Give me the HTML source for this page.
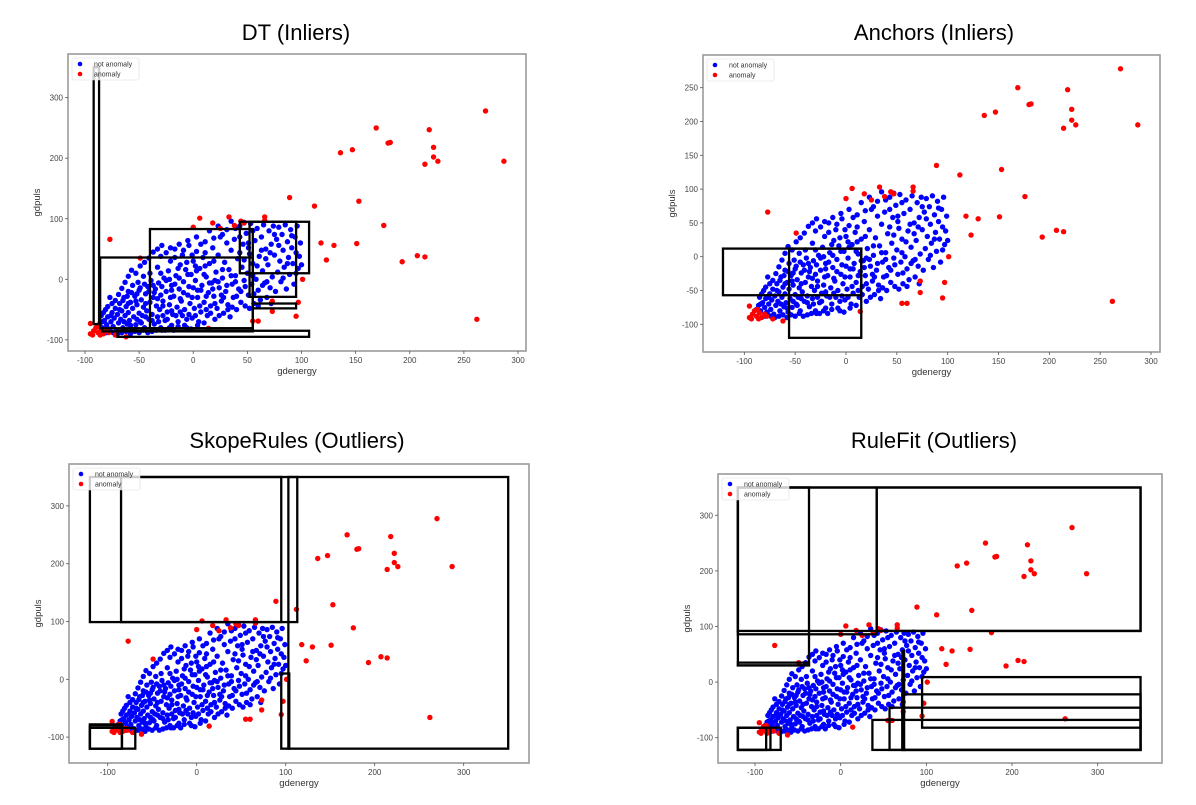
<!DOCTYPE html>
<html><head><meta charset="utf-8">
<style>
html,body{margin:0;padding:0;background:#fff;}
svg{display:block;font-family:"Liberation Sans",sans-serif;}
</style></head>
<body>
<svg id="chart" width="1196" height="805" viewBox="0 0 1196 805"></svg>
<script>
const anomalyX=[270,287,169,218,180,182,136,147,222,222,214,226,89,112,153,176,118,130,151,123,193,207,214,262,101,97,95,73,73,55,60,66,66,33,44,47,18,6,0,25,38,-77,-49,-62,-72,14,-95,-92,-90,-88,-85,-83,-95,-87,-80,-78,-93,-86];
const anomalyY=[278,195,250,247,225,226,209,214,218,202,190,195,135,121,129,89,60,56,59,32,29,39,37,-66,0,-38,-61,-36,-53,-69,-69,103,97,103,96,93,93,101,86,84,89,66,35,-95,-92,-81,-90,-85,-80,-88,-83,-90,-73,-78,-85,-88,-92,-92];
const normalPts="-88,-78 -86,-72 -84,-80 -82,-68 -80,-75 -79,-62 -78,-82 -76,-70 -75,-55 -74,-78 -73,-64 -72,-48 -71,-85 -70,-58 -69,-72 -68,-40 -67,-66 -66,-52 -65,-80 -64,-30 -63,-60 -62,-45 -61,-74 -60,-20 -60,-55 -59,-68 -58,-38 -57,-82 -56,-10 -56,-48 -55,-62 -54,-28 -53,-75 -52,-42 -51,-5 -50,-56 -50,-18 -49,-70 -48,-34 -47,-60 -46,5 -46,-46 -45,-80 -44,-24 -43,-52 -42,-12 -41,-66 -40,-38 -40,10 -39,-2 -38,-58 -37,-30 -36,-74 -35,-16 -34,-44 -33,20 -33,-62 -32,-6 -31,-50 -30,-26 -30,38 -29,-84 -28,-36 -27,2 -26,-68 -25,-20 -24,-54 -23,14 -22,-42 -21,30 -20,-10 -20,-76 -19,-58 -18,-28 -17,50 -16,6 -15,-46 -14,-70 -13,-16 -12,24 -11,-36 -10,-60 -10,40 -9,-4 -8,-50 -7,16 -6,-80 -5,-26 -4,56 -3,-40 -2,8 -1,-64 0,-14 0,30 1,-48 2,-2 3,46 4,-30 5,-70 6,18 7,-54 8,-10 9,36 10,-38 11,62 12,4 13,-60 14,-22 15,26 16,-44 17,-6 18,52 19,-28 20,-66 21,12 22,-48 23,40 24,-14 25,70 26,-36 27,2 28,-56 29,28 30,-20 31,82 32,-42 33,16 34,-62 35,48 36,-8 37,-30 38,66 39,6 40,-50 41,34 42,-16 43,88 44,-38 45,20 46,58 47,-2 48,-44 49,76 50,10 51,-26 52,42 53,92 54,-8 55,26 56,-40 57,64 58,0 59,84 60,-18 61,38 62,-34 63,70 64,14 65,90 66,-6 67,50 68,-30 69,24 70,80 71,-14 72,58 73,4 74,88 75,40 76,-20 77,66 78,12 79,86 80,30 81,-4 82,74 83,48 84,20 85,90 86,-16 87,62 88,36 89,8 90,82 91,52 92,26 93,-8 94,70 95,44 96,88 97,18 98,38 99,60 100,24 -80,-88 -77,-85 -74,-88 -70,-90 -66,-88 -62,-86 -58,-90 -54,-86 -50,-88 -46,-84 -42,-88 -38,-86 -34,-84 -30,-80 -26,-84 -22,-80 -18,-84 -14,-78 -8,-76 -2,-82 4,-76 10,-72 -85,-60 -83,-55 -81,-50 -79,-45 -77,-30 -75,-40 -72,-35 -69,-25 -66,-15 -63,-5 -60,5 -57,15 -53,10 -49,22 -45,28 -41,35 -37,45 -33,50 -29,56 -25,44 -21,52 -17,36 -13,58 -9,48 -5,64 -1,40 3,70 7,58 11,44 15,80 19,68 23,88 27,74 31,60 35,96 39,84 43,70 47,94 51,60 55,80 -64,-70 -58,-76 -52,-66 -48,-72 -44,-62 -38,-68 -32,-70 -28,-60 -24,-66 -20,-52 -16,-60 -12,-54 -6,-66 -4,-58 2,-60 6,-44 12,-50 16,-56 20,-40 24,-60 28,-30 32,-50 36,-46 40,-28 44,-20 48,-12 52,-48 56,-24 60,-44 64,-10 68,-4 72,-40 -65,-35 -61,-28 -57,-22 -53,-36 -49,-14 -45,-8 -41,-20 -37,-10 -33,-32 -29,-12 -25,-2 -21,-30 -17,-8 -13,2 -9,-22 -5,8 -1,-30 3,14 7,-18 11,22 15,-6 19,30 23,-4 27,16 31,-10 35,6 39,-4 43,44 47,32 51,52 55,6 59,22 63,48 67,34 71,44 75,74 79,56 83,2 87,26 91,72 95,10 -36,-22 -28,-44 -20,-18 -12,-32 -4,-12 4,-18 12,-28 20,-2 -44,-40 -52,-24 -60,-40 -68,-50 -76,-60 -84,-70 -30,10 -22,0 -14,18 -6,28 2,22 10,8 18,-16 26,-26";
const normalX=normalPts.split(" ").map(p=>+p.split(",")[0]);
const normalY=normalPts.split(" ").map(p=>+p.split(",")[1]);

const titles=["DT (Inliers)","Anchors (Inliers)","SkopeRules (Outliers)","RuleFit (Outliers)"];
const xTicks1=[-100,-50,0,50,100,150,200,250,300];
const yTicks1=[-100,0,100,200,300];
const yTicks2=[-100,-50,0,50,100,150,200,250];
const xTicks3=[-100,0,100,200,300];
const yTicks3=[-100,0,100,200,300];
const rulesDT=[[-92,-87,-74,350],[-86,55,-81,36],[-40,55,-81,83],[43,107,10,95],[52,95,-29,95],[55,95,-48,-40],[-70,107,-95,-85],[-84,55,-86,-81]];
const rulesAnchors=[[-121,15,-57,12],[-56,15,-120,12]];
const rulesSkope=[[-120,95,99,350],[-85,113,99,350],[103,350,-120,350],[95,104,-120,10],[-120,-84,-120,-78],[-120,-69,-120,-84],[-120,-84,-120,-80]];
const rulesRuleFit=[[-120,-37,30,350],[-120,350,92,350],[42,350,92,350],[-120,-37,30,35],[-120,42,86,350],[-120,-70,-122,-82],[-120,-87,-122,-82],[-120,-82,-122,-82],[37,350,-122,-68],[57,350,-122,-46],[72,74,-122,56],[72,350,-122,-22],[95,350,-82,9]];

const panels=[
 {L:68,R:526,T:54,B:351,x0:193.25,kx:1.0825,y0:279.3,ky:0.6055,xt:xTicks1,yt:yTicks1,rules:rulesDT,tx:296,ty:40,name:"dt"},
 {L:703,R:1160,T:55,B:352,x0:846,kx:1.0167,y0:256.7,ky:0.676,xt:xTicks1,yt:yTicks2,rules:rulesAnchors,tx:934,ty:40,name:"anchors"},
 {L:69,R:529,T:464,B:763,x0:196.7,kx:0.89,y0:679.3,ky:0.578,xt:xTicks3,yt:yTicks3,rules:rulesSkope,tx:297,ty:448,name:"skoperules"},
 {L:718,R:1162,T:474,B:763,x0:840.7,kx:0.8567,y0:682.1,ky:0.556,xt:xTicks3,yt:yTicks3,rules:rulesRuleFit,tx:934,ty:448,name:"rulefit"}
];
const NS="http://www.w3.org/2000/svg";
const svg=document.getElementById("chart");
function mk(tag,attrs,parent){const e=document.createElementNS(NS,tag);for(const k in attrs)e.setAttribute(k,attrs[k]);parent.appendChild(e);return e;}

panels.forEach((p,i)=>{
  const g=mk("g",{},svg);
  
  
  const sx=v=>p.x0+p.kx*v, sy=v=>p.y0-p.ky*v;
  const t=mk("text",{x:p.tx,y:p.ty,"text-anchor":"middle","font-size":22,fill:"#000"},g);
  t.textContent=titles[i];
  
  
  const clip=mk("clipPath",{id:"c"+i},g);
  mk("rect",{x:p.L,y:p.T,width:p.R-p.L,height:p.B-p.T},clip);
  const plot=mk("g",{"clip-path":"url(#c"+i+")"},g);
  normalX.forEach((x,j)=>{
    const c=mk("circle",{cx:sx(x),cy:sy(normalY[j]),r:2.7,fill:"#0000ff"},plot);
    
    
  });
  anomalyX.forEach((x,j)=>{
    const c=mk("circle",{cx:sx(x),cy:sy(anomalyY[j]),r:2.7,fill:"#ff0000"},plot);
    
    
  });
  p.rules.forEach(r=>{
    const x1=sx(r[0]),x2=sx(r[1]),y1=sy(r[3]),y2=sy(r[2]);
    const e=mk("rect",{x:x1,y:y1,width:x2-x1,height:y2-y1,fill:"none",stroke:"#000","stroke-width":2.3},plot);
    
    
  });
  const fr=mk("rect",{x:p.L,y:p.T,width:p.R-p.L,height:p.B-p.T,fill:"none",stroke:"#9a9a9a","stroke-width":1.6},g);
  
  
  p.xt.forEach(v=>{
    mk("line",{x1:sx(v),x2:sx(v),y1:p.B,y2:p.B+3,stroke:"#555","stroke-width":0.8},g);
    const l=mk("text",{x:sx(v),y:p.B+12,"text-anchor":"middle","font-size":8,fill:"#444"},g);
    l.textContent=v;
    
    
  });
  p.yt.forEach(v=>{
    mk("line",{x1:p.L-3,x2:p.L,y1:sy(v),y2:sy(v),stroke:"#555","stroke-width":0.8},g);
    const l=mk("text",{x:p.L-5,y:sy(v)+3,"text-anchor":"end","font-size":8,fill:"#444"},g);
    l.textContent=v;
    
    
  });
  const xl=mk("text",{x:(p.L+p.R)/2,y:p.B+23,"text-anchor":"middle","font-size":9.5,fill:"#333"},g);
  xl.textContent="gdenergy";
  
  
  const yx=p.L-28, yy=(p.T+p.B)/2;
  const yl=mk("text",{x:yx,y:yy,"text-anchor":"middle","font-size":9.5,fill:"#333",transform:"rotate(-90 "+yx+" "+yy+")"},g);
  yl.textContent="gdpuls";
  
  
  const lg=mk("g",{},g);
  
  
  mk("rect",{x:p.L+4,y:p.T+4,width:67,height:22,fill:"#fff","fill-opacity":0.8,stroke:"#ddd","stroke-width":0.6,rx:2},lg);
  mk("circle",{cx:p.L+12,cy:p.T+10,r:2.3,fill:"#0000ff"},lg);
  mk("circle",{cx:p.L+12,cy:p.T+20,r:2.3,fill:"#ff0000"},lg);
  const a=mk("text",{x:p.L+26,y:p.T+12.5,"font-size":7,fill:"#333"},lg);
  a.textContent="not anomaly";
  
  
  const b=mk("text",{x:p.L+26,y:p.T+22.5,"font-size":7,fill:"#333"},lg);
  b.textContent="anomaly";
  
  
});
</script>
</body></html>
